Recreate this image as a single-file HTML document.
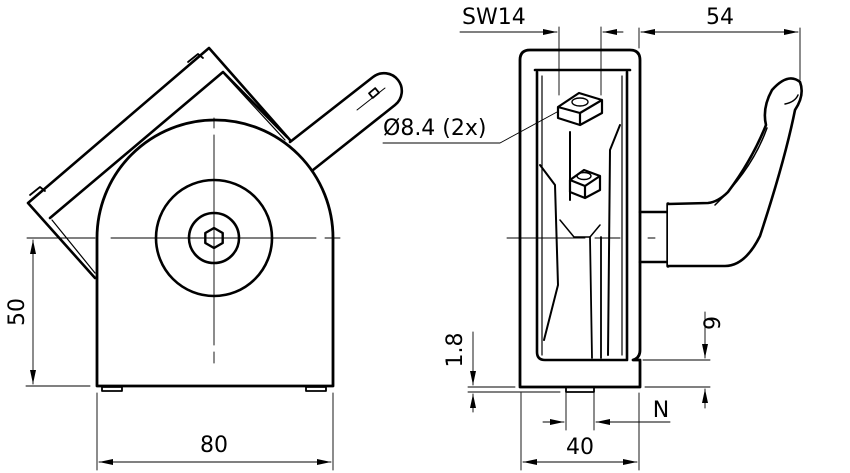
<!DOCTYPE html>
<html><head><style>
html,body{margin:0;padding:0;background:#fff;}
svg{display:block;}
text{font-family:"DejaVu Sans","Liberation Sans",sans-serif;fill:#000;font-size:22px;}
</style></head><body>
<svg width="850" height="473" viewBox="0 0 850 473" xmlns="http://www.w3.org/2000/svg">
<defs>
<marker id="a" viewBox="0 0 14 6" refX="14" refY="3" markerWidth="14" markerHeight="6" orient="auto-start-reverse" markerUnits="userSpaceOnUse"><path d="M0,0 L14,3 L0,6 Z" fill="#000"/></marker>
</defs>
<g fill="none" stroke="#000" stroke-linecap="round" stroke-linejoin="round">
<path d="M95,278 L28,203 L209,48 L290,140" stroke-width="2.6"/>
<path d="M50,218 L223,72 L287,137" stroke-width="2.6"/>
<path d="M52,220 L95,273" stroke-width="1.2"/>
<path d="M225,75 L285,140" stroke-width="1.2"/>
<path d="M30,195 L40,187 L45,191" stroke-width="1.8"/>
<path d="M188,62 L198,54 L203,58" stroke-width="1.8"/>
<path d="M290,142 L373,77 A17,17 0 0 1 395,105 L313,170" stroke-width="2.6" fill="#fff"/>
<path d="M357,110 L385,88" stroke-width="1"/>
<rect x="370" y="90" width="8" height="6" transform="rotate(-40 374 93)" stroke-width="1.8"/>
<path d="M97,282 L97,238 A118,118 0 0 1 333,238 L333,386 L97,386 Z" stroke-width="2.8" fill="#fff"/>
<rect x="102" y="387" width="20" height="4" stroke-width="1.8"/>
<rect x="306" y="387" width="20" height="4" stroke-width="1.8"/>
<circle cx="214" cy="238" r="58" stroke-width="2.6"/>
<circle cx="214" cy="238" r="25" stroke-width="2.6"/>
<path d="M214,228 L222.7,233 L222.7,243 L214,248 L205.3,243 L205.3,233 Z" stroke-width="2.4"/>
<path d="M27,238 L95,238 M111,238 L316,238 M325,238 L340,238" stroke-width="0.9"/>
<path d="M214,118 L214,128 M214,135 L214,345 M214,352 L214,363" stroke-width="0.9"/>
<path d="M26,386 L90,386" stroke-width="0.9"/>
<path d="M33,240 L33,384" stroke-width="0.9" marker-start="url(#a)" marker-end="url(#a)"/>
<path d="M97,393 L97,470 M333,393 L333,470" stroke-width="0.9"/>
<path d="M99,462 L331,462" stroke-width="0.9" marker-start="url(#a)" marker-end="url(#a)"/>
<path d="M383,143 L500,143 L557,112" stroke-width="0.9"/>

<path d="M520,386 L520,60 Q520,50 530,50 L630,50 Q640,50 640,60 L640,350 Q640,358 633,360 L640,360 L640,387 L520,387" stroke-width="2.8"/>
<path d="M535,70 L630,70" stroke-width="2.6"/>
<path d="M537,72 L537,352 Q537,360 545,360 L627,360 L627,72" stroke-width="2.6"/>
<path d="M542,76 L542,355" stroke-width="1.2"/>
<path d="M622,76 L622,355" stroke-width="1.2"/>
<path d="M540,165 L555,185 L558,285 L544,340" stroke-width="2"/>
<path d="M620,125 L610,150 L608,355" stroke-width="2"/>
<path d="M570,132 L570,200" stroke-width="2"/>
<path d="M560,220 L574,237 L590,237 L600,225" stroke-width="1.5"/>
<path d="M590,237 L592,358 M601,237 L601,358" stroke-width="1.8"/>
<path d="M595,238 L620,238" stroke-width="1"/>
<path d="M558,107 L579,93 L602,100 L602,113 L580,125 L558,118 Z M558,107 L580,113 L602,100 M580,113 L580,125" stroke-width="2.2" fill="#fff"/>
<ellipse cx="580" cy="102" rx="8" ry="4" stroke-width="1.4"/>
<path d="M570,180 L584,170 L600,176 L600,190 L585,198 L570,192 Z M570,180 L585,186 L600,176 M585,186 L585,198" stroke-width="2.2" fill="#fff"/>
<ellipse cx="584" cy="176" rx="7" ry="3.5" stroke-width="1.4"/>
<rect x="566" y="387" width="28" height="5" stroke-width="1.8"/>
<path d="M640,212 L668,212 M640,262 L668,262" stroke-width="2.6"/>
<path d="M668,204 L668,266" stroke-width="3.4"/>
<path d="M668,204 L708,203 Q718,202 728,192 Q752,160 766,125 Q762,108 772,90 Q788,72 800,82 Q805,95 795,110 Q785,160 760,236 Q745,266 725,266 L668,266" stroke-width="2.6" fill="#fff"/>
<path d="M715,205 Q752,170 767,128" stroke-width="1.5"/>
<path d="M785,104 Q795,102 798,95" stroke-width="1.5"/>
<path d="M507,238 L585,238 M648,238 L655,238" stroke-width="0.9"/>
<path d="M559,27 L559,95 M601,27 L601,95" stroke-width="0.9"/>
<path d="M460,32 L557,32" stroke-width="0.9" marker-end="url(#a)"/>
<path d="M603,32 L623,32" stroke-width="0.9" marker-start="url(#a)"/>
<path d="M639,28 L639,48 M800,28 L800,80" stroke-width="0.9"/>
<path d="M641,32 L798,32" stroke-width="0.9" marker-start="url(#a)" marker-end="url(#a)"/>
<path d="M468,387 L515,387 M468,392 L560,392" stroke-width="0.9"/>
<path d="M473,332 L473,385" stroke-width="0.9" marker-end="url(#a)"/>
<path d="M473,412 L473,394" stroke-width="0.9" marker-end="url(#a)"/>
<path d="M643,360 L710,360 M645,387 L710,387" stroke-width="0.9"/>
<path d="M705,312 L705,358" stroke-width="0.9" marker-end="url(#a)"/>
<path d="M705,408 L705,389" stroke-width="0.9" marker-end="url(#a)"/>
<path d="M566,393 L566,430 M594,393 L594,430 M639,393 L639,470 M521,393 L521,470" stroke-width="0.9"/>
<path d="M543,422 L564,422" stroke-width="0.9" marker-end="url(#a)"/>
<path d="M670,422 L596,422" stroke-width="0.9" marker-end="url(#a)"/>
<path d="M523,462 L637,462" stroke-width="0.9" marker-start="url(#a)" marker-end="url(#a)"/>
</g>
<text x="214" y="452" text-anchor="middle">80</text>
<text transform="translate(24,312) rotate(-90)" text-anchor="middle">50</text>
<text x="383" y="135">Ø8.4 (2x)</text>
<text x="462" y="24">SW14</text>
<text x="720" y="24" text-anchor="middle">54</text>
<text transform="translate(462,350) rotate(-90)" text-anchor="middle">1.8</text>
<text transform="translate(720,323) rotate(-90)" text-anchor="middle">9</text>
<text x="661" y="417" text-anchor="middle">N</text>
<text x="580" y="454" text-anchor="middle">40</text>
</svg>
</body></html>
